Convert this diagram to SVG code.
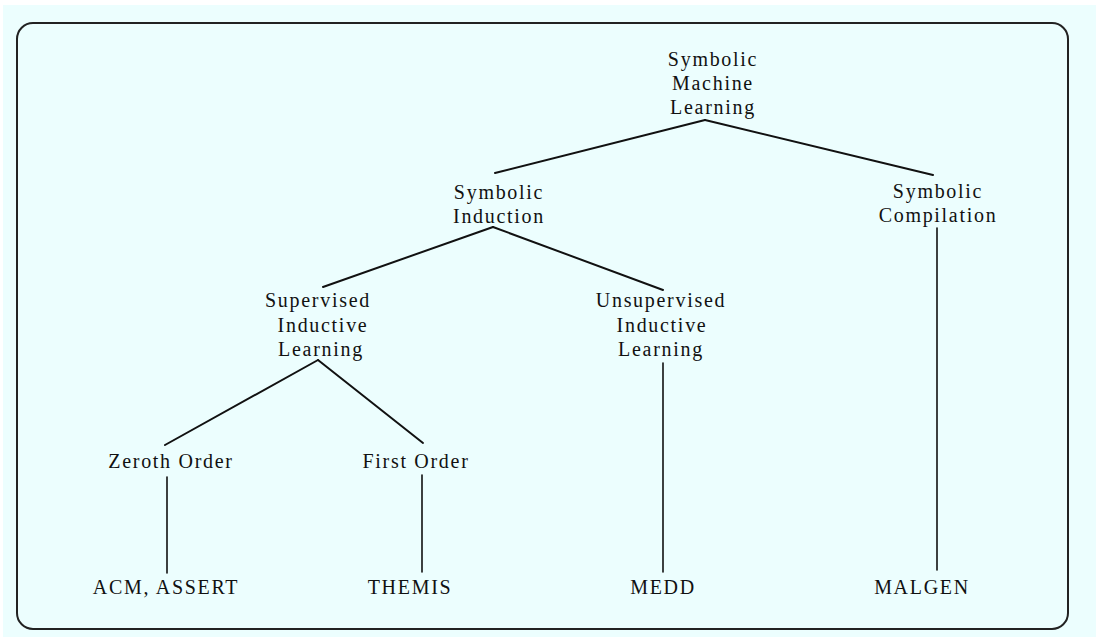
<svg xmlns="http://www.w3.org/2000/svg" width="1096" height="637" viewBox="0 0 1096 637">
<style>
text{font-family:"Liberation Serif","Times New Roman",serif;font-size:20px;letter-spacing:1.7px;fill:#111;text-anchor:middle}
.c line{stroke:#111;stroke-width:2;stroke-linecap:round}
.c .v{stroke-width:1.6}
</style>
<rect x="0" y="0" width="1096" height="637" fill="#ffffff"/>
<rect x="3" y="5" width="1093" height="632" fill="#ecfefe"/>
<rect x="17" y="23" width="1051" height="606" rx="16" ry="16" fill="none" stroke="#222" stroke-width="2"/>
<g class="c" id="connectors">
<line x1="705" y1="120" x2="495" y2="173"/>
<line x1="705" y1="120" x2="933" y2="175"/>
<line x1="493" y1="227" x2="323" y2="287"/>
<line x1="493" y1="227" x2="663" y2="290"/>
<line x1="318" y1="360" x2="165" y2="445"/>
<line x1="318" y1="360" x2="423" y2="443"/>
<line class="v" x1="937" y1="228" x2="937" y2="570"/>
<line class="v" x1="663" y1="363" x2="663" y2="572"/>
<line class="v" x1="167" y1="477" x2="167" y2="573"/>
<line class="v" x1="422" y1="475" x2="422" y2="572"/>
</g>
<g id="n-sml"><text x="713" y="66">Symbolic</text><text x="713" y="90">Machine</text><text x="713" y="114">Learning</text></g>
<g id="n-si"><text x="499" y="199">Symbolic</text><text x="499" y="223">Induction</text></g>
<g id="n-sc"><text x="938" y="198">Symbolic</text><text x="938" y="222">Compilation</text></g>
<g id="n-sil"><text x="318" y="307">Supervised</text><text x="323" y="332">Inductive</text><text x="321" y="356">Learning</text></g>
<g id="n-uil"><text x="661" y="307">Unsupervised</text><text x="662" y="332">Inductive</text><text x="661" y="356">Learning</text></g>
<g id="n-zo"><text x="171" y="468">Zeroth Order</text></g>
<g id="n-fo"><text x="416" y="468">First Order</text></g>
<g id="n-acm"><text x="166" y="594">ACM, ASSERT</text></g>
<g id="n-themis"><text x="410" y="594">THEMIS</text></g>
<g id="n-medd"><text x="663" y="594">MEDD</text></g>
<g id="n-malgen"><text x="922" y="594">MALGEN</text></g>
</svg>
